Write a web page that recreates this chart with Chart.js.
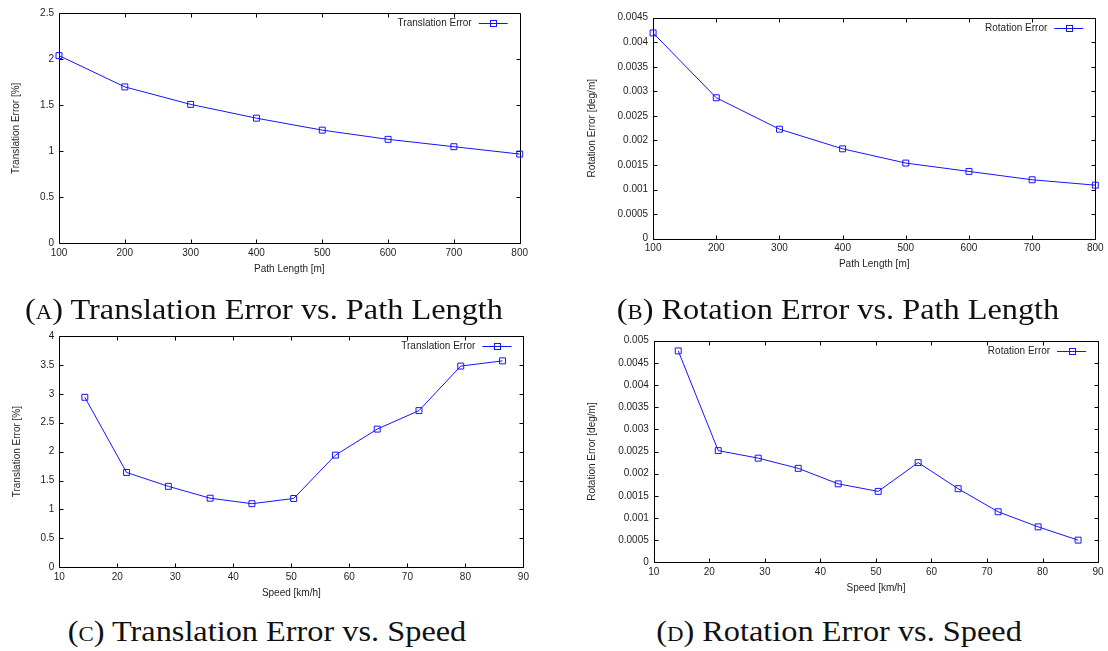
<!DOCTYPE html>
<html><head><meta charset="utf-8">
<script src="https://cdn.jsdelivr.net/npm/chart.js@4.4.0/dist/chart.umd.min.js"></script>
<style>
html,body{margin:0;padding:0;background:#fff;width:1108px;height:651px;overflow:hidden;position:relative}
canvas{position:absolute}
.cap{position:absolute;width:600px;text-align:center;font-family:'Liberation Serif','Times New Roman',serif;font-size:28.4px;line-height:28.4px;color:#111;white-space:nowrap;transform-origin:50% 50%}
.sc{font-variant-caps:all-small-caps}
</style></head><body>
<canvas id="cA" width="545" height="280" style="left:0;top:0"></canvas>
<canvas id="cB" width="548" height="280" style="left:560px;top:0"></canvas>
<canvas id="cC" width="545" height="280" style="left:0;top:325px"></canvas>
<canvas id="cD" width="548" height="280" style="left:560px;top:325px"></canvas>
<div class="cap" id="capA" style="left:-36px;top:296px">(<span class="sc">A</span>) Translation Error vs. Path Length</div>
<div class="cap" id="capB" style="left:538px;top:296px">(<span class="sc">B</span>) Rotation Error vs. Path Length</div>
<div class="cap" id="capC" style="left:-33px;top:618px">(<span class="sc">C</span>) Translation Error vs. Speed</div>
<div class="cap" id="capD" style="left:539px;top:618px">(<span class="sc">D</span>) Rotation Error vs. Speed</div>
<script>
// ---- data ----
const pathLengths = [100, 200, 300, 400, 500, 600, 700, 800];
const transErrByPath = [2.04, 1.70, 1.51, 1.36, 1.23, 1.13, 1.05, 0.97];
const rotErrByPath = [0.00419, 0.00287, 0.00223, 0.00183, 0.00154, 0.00137, 0.00120, 0.00109];
const speeds = [14.4, 21.6, 28.8, 36.0, 43.2, 50.4, 57.6, 64.8, 72.0, 79.2, 86.4];
const transErrBySpeed = [2.94, 1.64, 1.40, 1.195, 1.10, 1.19, 1.94, 2.39, 2.71, 3.48, 3.57];
const rotErrBySpeed = [0.00477, 0.00252, 0.00235, 0.00212, 0.00177, 0.00160, 0.00225, 0.00166, 0.00114, 0.00080, 0.00050];
// ---- tick labels ----
const pathTicks = [100, 200, 300, 400, 500, 600, 700, 800];
const speedTicks = [10, 20, 30, 40, 50, 60, 70, 80, 90];
const transPathTicks = [0, 0.5, 1, 1.5, 2, 2.5];
const rotPathTicks = [0, 0.0005, 0.001, 0.0015, 0.002, 0.0025, 0.003, 0.0035, 0.004, 0.0045];
const transSpeedTicks = [0, 0.5, 1, 1.5, 2, 2.5, 3, 3.5, 4];
const rotSpeedTicks = [0, 0.0005, 0.001, 0.0015, 0.002, 0.0025, 0.003, 0.0035, 0.004, 0.0045, 0.005];

const BLUE = 'rgb(20,20,255)';
const TXT = '#1e1e1e';
const FONT = {family: "'Liberation Sans', Arial, sans-serif", size: 10};
const fmt = v => String(+Number(v).toFixed(6));

const frame = {
  id: 'gnuFrame',
  beforeDatasetsDraw(chart) {
    const {ctx, chartArea: a, scales} = chart;
    const L = Math.round(a.left) + 0.5, R = Math.round(a.right) + 0.5;
    const T = Math.round(a.top) + 0.5, B = Math.round(a.bottom) + 0.5;
    ctx.save();
    ctx.strokeStyle = '#000';
    ctx.lineWidth = 1;
    ctx.beginPath();
    ctx.rect(L, T, R - L, B - T);
    const tl = 4;
    scales.y.ticks.forEach(t => {
      const py = Math.round(scales.y.getPixelForValue(t.value)) + 0.5;
      ctx.moveTo(L, py); ctx.lineTo(L + tl, py);
      ctx.moveTo(R, py); ctx.lineTo(R - tl, py);
    });
    scales.x.ticks.forEach(t => {
      const px = Math.round(scales.x.getPixelForValue(t.value)) + 0.5;
      ctx.moveTo(px, B); ctx.lineTo(px, B - tl);
      ctx.moveTo(px, T); ctx.lineTo(px, T + tl);
    });
    ctx.stroke();
    ctx.restore();
  },
  afterDraw(chart) {
    const {ctx, chartArea: a} = chart;
    const ds = chart.data.datasets[0];
    const x2 = a.right - 12, x1 = x2 - 29, y = Math.round(a.top + 10) + 0.5;
    ctx.save();
    ctx.font = "10px 'Liberation Sans', Arial, sans-serif";
    ctx.fillStyle = TXT;
    ctx.textAlign = 'right';
    ctx.textBaseline = 'middle';
    ctx.fillText(ds.label, x1 - 7, y);
    ctx.strokeStyle = BLUE;
    ctx.lineWidth = 1;
    ctx.beginPath();
    ctx.moveTo(x1, y); ctx.lineTo(x2, y);
    ctx.stroke();
    const cx = Math.round((x1 + x2) / 2) + 0.5;
    ctx.strokeRect(cx - 3, y - 3, 6, 6);
    ctx.restore();
  }
};

function makeChart(id, c) {
  return new Chart(document.getElementById(id), {
    type: 'line',
    data: {
      datasets: [{
        label: c.label,
        data: c.xs.map((x, i) => ({x: x, y: c.ys[i]})),
        borderColor: BLUE, borderWidth: 1, tension: 0, fill: false,
        pointStyle: 'rect', pointRadius: 4.2, pointBorderWidth: 1,
        pointBorderColor: BLUE, pointBackgroundColor: 'rgba(255,255,255,0)',
        clip: false
      }]
    },
    options: {
      responsive: false, animation: false, events: [],
      layout: {padding: {top: c.padTop, right: c.padRight, left: 0, bottom: 0}},
      plugins: {legend: {display: false}, tooltip: {enabled: false}},
      scales: {
        x: {
          type: 'linear', min: c.xTicks[0], max: c.xTicks[c.xTicks.length - 1],
          afterBuildTicks: s => { s.ticks = c.xTicks.map(v => ({value: v})); },
          afterFit: s => { s.height = c.xAxisH; },
          grid: {display: false, drawTicks: false, tickLength: 0},
          border: {display: false},
          ticks: {padding: 4, font: FONT, color: TXT, maxRotation: 0, autoSkip: false, callback: fmt},
          title: {display: true, text: c.xTitle, font: FONT, color: TXT, padding: {top: 0, bottom: c.xTitlePad}}
        },
        y: {
          type: 'linear', min: c.yTicks[0], max: c.yTicks[c.yTicks.length - 1],
          afterBuildTicks: s => { s.ticks = c.yTicks.map(v => ({value: v})); },
          afterFit: s => { s.width = c.yAxisW; },
          grid: {display: false, drawTicks: false, tickLength: 0},
          border: {display: false},
          ticks: {padding: 5, font: FONT, color: TXT, autoSkip: false, callback: fmt},
          title: {display: true, text: c.yTitle, font: FONT, color: TXT, padding: {top: c.yTitlePad, bottom: 0}}
        }
      }
    },
    plugins: [frame]
  });
}

makeChart('cA', {label: 'Translation Error', xs: pathLengths, ys: transErrByPath, xTicks: pathTicks, yTicks: transPathTicks,
  xTitle: 'Path Length [m]', yTitle: 'Translation Error [%]',
  yAxisW: 59, xAxisH: 36.7, padTop: 13.3, padRight: 25.3, xTitlePad: 4.7, yTitlePad: 10.7});
makeChart('cB', {label: 'Rotation Error', xs: pathLengths, ys: rotErrByPath, xTicks: pathTicks, yTicks: rotPathTicks,
  xTitle: 'Path Length [m]', yTitle: 'Rotation Error [deg/m]',
  yAxisW: 93.1, xAxisH: 41.3, padTop: 17.7, padRight: 12.7, xTitlePad: 9.7, yTitlePad: 26.2});
makeChart('cC', {label: 'Translation Error', xs: speeds, ys: transErrBySpeed, xTicks: speedTicks, yTicks: transSpeedTicks,
  xTitle: 'Speed [km/h]', yTitle: 'Translation Error [%]',
  yAxisW: 59.3, xAxisH: 37.7, padTop: 10.3, padRight: 21.6, xTitlePad: 5.7, yTitlePad: 11.2});
makeChart('cD', {label: 'Rotation Error', xs: speeds, ys: rotErrBySpeed, xTicks: speedTicks, yTicks: rotSpeedTicks,
  xTitle: 'Speed [km/h]', yTitle: 'Rotation Error [deg/m]',
  yAxisW: 93.8, xAxisH: 42.7, padTop: 15.7, padRight: 9.9, xTitlePad: 10.7, yTitlePad: 26.2});

// caption horizontal scale to match Computer Modern width
(function () {
  const a = document.getElementById('capA');
  const r = document.createElement('span');
  r.innerHTML = a.innerHTML;
  r.style.cssText = "font-family:'Liberation Serif','Times New Roman',serif;font-size:28.4px;white-space:nowrap;position:absolute;visibility:hidden";
  document.body.appendChild(r);
  const k = 478 / r.getBoundingClientRect().width;
  r.remove();
  ['capA', 'capB', 'capC', 'capD'].forEach(id => {
    document.getElementById(id).style.transform = 'scaleX(' + k.toFixed(4) + ')';
  });
})();
</script>
</body></html>
